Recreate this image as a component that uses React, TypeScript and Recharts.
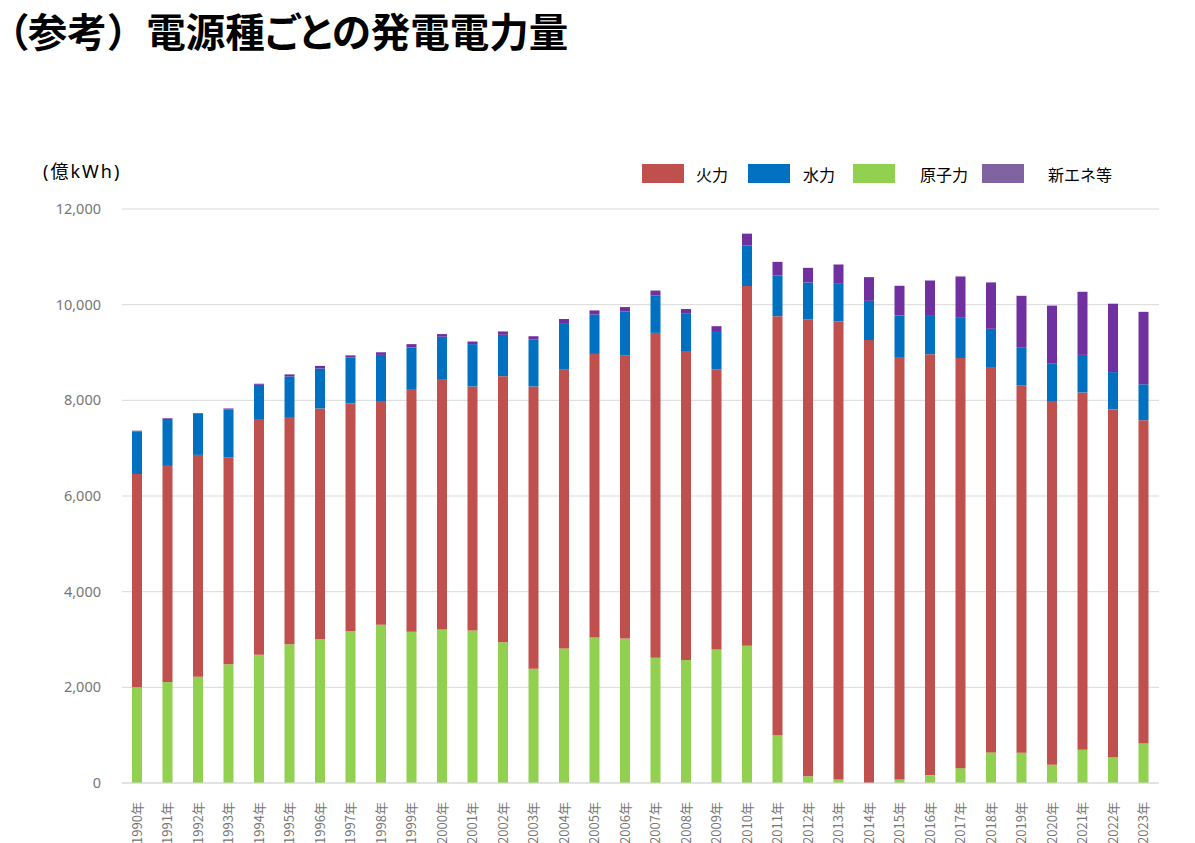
import { BarChart, Bar, XAxis, YAxis, CartesianGrid, Legend } from 'recharts';

const YEARS = [
  '1990年', '1991年', '1992年', '1993年', '1994年', '1995年', '1996年', '1997年', '1998年', '1999年',
  '2000年', '2001年', '2002年', '2003年', '2004年', '2005年', '2006年', '2007年', '2008年', '2009年',
  '2010年', '2011年', '2012年', '2013年', '2014年', '2015年', '2016年', '2017年', '2018年', '2019年',
  '2020年', '2021年', '2022年', '2023年',
];

// 億kWh
const NUCLEAR = [
  2000, 2110, 2220, 2480, 2680, 2900, 3010, 3180, 3310, 3160,
  3210, 3190, 2940, 2390, 2810, 3040, 3020, 2620, 2570, 2790,
  2870, 1000, 140, 75, 0, 75, 165, 310, 640, 635,
  380, 695, 540, 825,
];
const THERMAL = [
  4460, 4520, 4640, 4330, 4930, 4750, 4820, 4755, 4675, 5060,
  5220, 5100, 5565, 5900, 5830, 5930, 5920, 6790, 6460, 5860,
  7520, 8760, 9550, 9580, 9260, 8830, 8800, 8575, 8040, 7680,
  7605, 7470, 7270, 6760,
];
const HYDRO = [
  890, 980, 860, 1000, 715, 850, 835, 960, 965, 885,
  900, 885, 865, 980, 975, 825, 920, 780, 780, 800,
  845, 850, 775, 795, 820, 870, 800, 840, 815, 795,
  790, 785, 780, 750,
];
const NEW_ENERGY = [
  15, 15, 15, 20, 22, 42, 55, 45, 55, 70,
  55, 55, 70, 70, 85, 85, 90, 105, 100, 100,
  250, 285, 305, 390, 495, 620, 740, 865, 970, 1075,
  1205, 1320, 1430, 1515,
];

const Y_TICKS = [0, 2000, 4000, 6000, 8000, 10000, 12000];

const data = YEARS.map((year, i) => ({
  year,
  nuclear: NUCLEAR[i],
  thermal: THERMAL[i],
  hydro: HYDRO[i],
  newEnergy: NEW_ENERGY[i],
}));

const FONT = '"Noto Sans CJK JP", "Noto Sans", sans-serif';
const LATIN_FONT = '"Noto Sans", "Noto Sans CJK JP", sans-serif';

const LEGEND_ITEMS = [
  { label: '火力', color: '#C0504D', swatch: 0, text: 54 },
  { label: '水力', color: '#0070C0', swatch: 106, text: 161 },
  { label: '原子力', color: '#92D050', swatch: 211, text: 278 },
  { label: '新エネ等', color: '#8064A2', swatch: 340, text: 406 },
];

function LegendBox() {
  return (
    <div style={{ position: 'relative', width: 480, height: 20, fontFamily: FONT }}>
      {LEGEND_ITEMS.map((item) => (
        <span key={item.label}>
          <span
            style={{
              position: 'absolute',
              left: item.swatch,
              top: 0,
              width: 42,
              height: 19,
              background: item.color,
            }}
          />
          <span
            style={{
              position: 'absolute',
              left: item.text,
              top: -1,
              fontSize: 16,
              lineHeight: '22px',
              color: '#000',
              whiteSpace: 'nowrap',
            }}
          >
            {item.label}
          </span>
        </span>
      ))}
    </div>
  );
}

function YearTick(props: any) {
  const { x, y, payload } = props;
  return (
    <text
      x={x}
      y={y}
      transform={`rotate(-90, ${x}, ${y})`}
      dx={-11}
      dy={4.5}
      textAnchor="end"
      fill="#767676"
      fontSize={13}
      fontFamily={FONT}
    >
      {payload.value}
    </text>
  );
}

export default function App() {
  return (
    <div style={{ position: 'relative', width: 1179, height: 835, fontFamily: FONT }}>
      <div
        style={{
          position: 'absolute',
          left: 0,
          top: 2,
          fontSize: 39.5,
          lineHeight: '40px',
          fontWeight: 700,
          color: '#000',
          whiteSpace: 'nowrap',
          fontFeatureSettings: '"palt" 1',
        }}
      >
        （参考<span style={{ fontFeatureSettings: 'normal' }}>）</span>電源種ごとの発電電力量
      </div>
      <div
        style={{
          position: 'absolute',
          left: 35,
          top: 152,
          fontSize: 18,
          lineHeight: '22px',
          letterSpacing: 2,
          color: '#000',
          fontFamily: LATIN_FONT,
        }}
      >
        (億kWh)
      </div>
      <BarChart
        width={1179}
        height={835}
        data={data}
        margin={{ top: 201, right: 28, left: 0, bottom: 0 }}
        barSize={10}
      >
        <CartesianGrid vertical={false} stroke="#D9D9D9" />
        <XAxis
          dataKey="year"
          interval={0}
          height={60}
          tickLine={false}
          axisLine={{ stroke: '#D9D9D9' }}
          tick={<YearTick />}
        />
        <YAxis
          width={114}
          domain={[0, 12000]}
          ticks={Y_TICKS}
          tickLine={false}
          axisLine={false}
          tickMargin={15}
          tickFormatter={(v: number) => v.toLocaleString('en-US')}
          tick={{ fill: '#767676', fontSize: 14.5, fontFamily: LATIN_FONT }}
        />
        <Legend
          layout="horizontal"
          verticalAlign="middle"
          align="center"
          content={() => <LegendBox />}
          wrapperStyle={{ position: 'absolute', top: 156, left: 634, width: 480, height: 20 }}
        />
        <Bar dataKey="nuclear" name="原子力" stackId="a" fill="#92D050" isAnimationActive={false} />
        <Bar dataKey="thermal" name="火力" stackId="a" fill="#C0504D" isAnimationActive={false} />
        <Bar dataKey="hydro" name="水力" stackId="a" fill="#0070C0" isAnimationActive={false} />
        <Bar dataKey="newEnergy" name="新エネ等" stackId="a" fill="#7030A0" isAnimationActive={false} />
      </BarChart>
    </div>
  );
}
